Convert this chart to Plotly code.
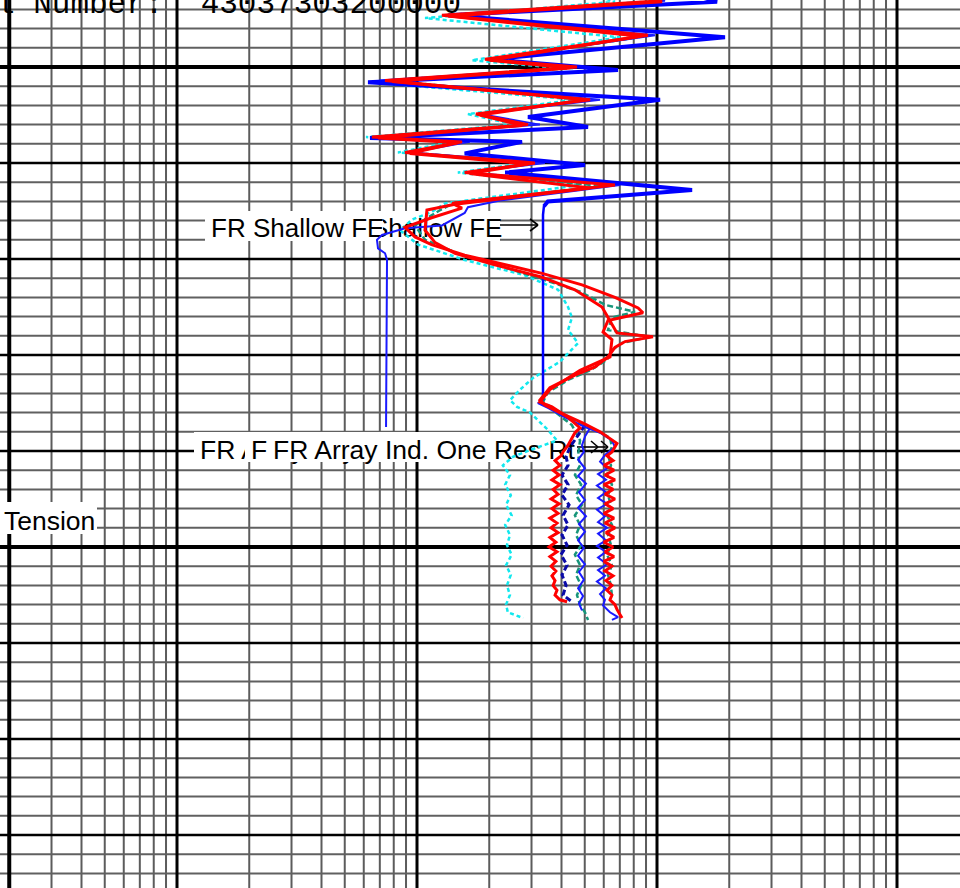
import math
import plotly.graph_objects as go

# ---------------- data: depth (ft) and resistivity (ohm-m) ----------------
deep_depth = [6392.7, 6393.2, 6394.6, 6396.9, 6399.2, 6400.3, 6401.6, 6403.4, 6405.2, 6406.25,
              6407.4, 6407.8, 6409.0, 6410.2, 6411.0, 6412.8, 6414.0, 6414.5]
deep_res = [151, 178, 13.5, 192, 20.5, 68.8, 6.25, 103, 29.0, 51.6,
            6.37, 27.4, 15.8, 50.1, 23.3, 140, 35.1, 33.8]

deepv_depth = [6414.0, 6414.5, 6415.4, 6425.0, 6434.7]
deepv_res = [35.1, 33.8, 33.5, 33.6, 33.5]

ra_depth = [6392.7, 6393.1, 6394.6, 6396.7, 6399.2, 6400.0, 6401.4, 6403.4, 6404.9, 6406.0,
            6407.3, 6407.8, 6408.9, 6410.0, 6411.0, 6412.3, 6414.2, 6414.7, 6415.7, 6416.7,
            6417.7, 6418.5, 6419.6, 6420.6, 6421.5, 6422.7, 6424.0, 6425.1, 6425.6, 6426.4,
            6427.6, 6428.4, 6430.2, 6431.6, 6433.6, 6434.9, 6435.4, 6436.5, 6437.6, 6438.1,
            6439.4, 6440.1,
            6440.5, 6441.0, 6441.5, 6442.0, 6442.5, 6443.0, 6443.5, 6444.0, 6444.5, 6445.0,
            6445.5, 6446.0, 6446.5, 6447.0, 6447.5, 6448.0, 6448.5, 6449.0, 6449.5, 6450.0,
            6450.5, 6451.0, 6451.5, 6452.0, 6452.5, 6453.0, 6453.5, 6454.0, 6454.5, 6455.0,
            6455.5, 6455.7]
ra_res = [84.9, 103, 12.7, 91.7, 19.2, 46.4, 7.36, 52.6, 17.6, 29.0,
          6.49, 15.4, 8.91, 31.0, 15.8, 66.8, 14.0, 15.4, 11.5, 8.91,
          9.81, 11.5, 15.8, 23.3, 33.2, 48.7, 66.8, 83.4, 87.4, 62.5,
          59.6, 64.9, 63.7, 47.8, 35.8, 32.5, 36.5, 42.6, 47.8, 45.5,
          42.6, 40.6,
          39.8, 37.6, 39.4, 36.9, 39.1, 36.5, 39.4, 36.9, 38.7, 36.2,
          39.1, 36.5, 38.7, 35.8, 38.3, 36.2, 38.7, 35.8, 37.9, 35.5,
          38.3, 35.8, 37.9, 36.2, 37.9, 36.5, 37.6, 36.9, 38.3, 37.6,
          39.4, 42.2]

rb_depth = [6392.9, 6393.2, 6394.7, 6396.8, 6399.3, 6400.1, 6401.5, 6403.4, 6405.0, 6406.1,
            6407.4, 6407.9, 6409.0, 6410.1, 6411.1, 6412.6, 6414.3, 6414.9, 6417.0, 6418.3,
            6419.4, 6420.6, 6421.9, 6423.2, 6425.0, 6426.4, 6427.7, 6428.1, 6428.6, 6429.2,
            6430.2, 6431.25, 6432.1, 6433.4, 6434.7, 6435.2, 6436.0, 6437.1, 6438.0, 6439.2,
            6440.1,
            6440.5, 6441.0, 6441.5, 6442.0, 6442.5, 6443.0, 6443.5, 6444.0, 6444.5, 6445.0,
            6445.5, 6446.0, 6446.5, 6447.0, 6447.5, 6448.0, 6448.5, 6449.0, 6449.5, 6450.0,
            6450.5, 6451.0, 6451.5, 6452.0, 6452.5, 6453.0, 6453.5, 6454.0, 6454.5, 6455.0,
            6455.5, 6456.0, 6456.5, 6457.0, 6457.4]
rb_res = [93.5, 105, 13.5, 84.9, 20.1, 43.4, 7.87, 50.1, 18.3, 27.4,
          6.88, 14.8, 9.35, 29.0, 16.6, 52.6, 14.4, 11.0, 10.8, 11.9,
          14.4, 21.1, 33.2, 45.5, 59.0, 63.7, 68.1, 96.2, 73.6, 66.8,
          62.5, 55.2, 45.5, 35.8, 32.5, 34.1, 39.4, 49.2, 57.9, 68.1,
          64.9,
          61.9, 65.6, 60.1, 66.2, 60.7, 66.8, 60.1, 65.6, 60.7, 66.8,
          60.7, 65.6, 60.1, 66.2, 60.7, 66.8, 61.3, 66.2, 60.1, 65.6,
          60.7, 66.2, 60.1, 64.9, 60.7, 65.6, 61.3, 64.9, 61.9, 64.9,
          63.7, 66.8, 68.1, 70.1, 71.5]

mb_depth = [6392.7, 6393.1, 6394.6, 6396.7, 6399.2, 6400.0, 6401.4, 6403.4, 6404.9, 6406.0,
            6407.3, 6407.8, 6408.9, 6410.0, 6411.0, 6412.3, 6413.9, 6414.6, 6415.2, 6416.5,
            6416.8, 6417.2, 6417.5, 6418.0, 6418.9, 6419.4, 6420.1, 6437.5]
mb_res = [93.5, 108, 13.1, 98.1, 19.8, 47.8, 7.01, 57.9, 18.3, 32.5,
          6.68, 16.6, 9.35, 34.1, 16.3, 70.1, 22.2, 16.3, 15.8, 12.7,
          8.91, 7.87, 7.15, 6.81, 6.88, 7.36, 7.50, 7.43]

cy_depth = [6392.7, 6393.2, 6394.9, 6396.9, 6399.3, 6400.1, 6401.6, 6403.4, 6404.9, 6406.0,
            6407.3, 6407.8, 6408.9, 6410.0, 6411.0, 6412.3, 6414.2, 6415.1, 6415.9, 6417.0,
            6418.5, 6420.1, 6421.7, 6423.2, 6425.0, 6426.1, 6427.4, 6428.75, 6430.7, 6432.4,
            6433.6, 6434.7, 6435.4, 6436.0, 6437.8, 6438.9, 6439.9, 6440.6, 6441.5, 6442.5,
            6443.5, 6444.6, 6445.6, 6446.7, 6447.7, 6448.75, 6449.8, 6450.8, 6451.9, 6452.9,
            6454.0, 6455.0, 6456.0, 6456.8, 6457.4]
cy_res = [57.9, 66.8, 10.8, 70.1, 16.9, 39.4, 6.49, 45.5, 16.3, 25.6,
          6.13, 14.0, 8.33, 28.2, 14.8, 47.8, 13.1, 11.5, 9.53, 8.50,
          10.1, 15.8, 28.2, 38.7, 42.6, 44.2, 42.6, 46.9, 39.4, 30.4,
          26.9, 24.4, 26.1, 29.6, 35.1, 38.3, 29.6, 25.1, 22.8, 24.4,
          23.3, 24.6, 23.5, 24.8, 23.3, 24.4, 23.7, 24.8, 23.5, 24.6,
          23.7, 24.4, 23.5, 23.9, 27.7]

g1_depth = [6392.8, 6393.1, 6394.6, 6396.8, 6399.3, 6400.1, 6401.4, 6403.4, 6404.9, 6406.0,
            6407.3, 6407.8, 6408.9, 6410.0, 6411.0, 6412.4, 6414.2, 6414.9, 6416.5, 6418.0,
            6419.6, 6420.9,
            6422.2, 6423.4, 6424.8, 6425.5, 6426.1, 6427.4, 6428.1, 6428.75, 6429.5, 6430.5,
            6431.6, 6432.6, 6433.9, 6434.9, 6435.7, 6436.8, 6437.8, 6438.6, 6439.6, 6440.4,
            6441.5, 6442.5, 6443.5, 6444.6, 6445.6, 6446.7, 6447.7, 6448.75, 6449.8, 6450.8,
            6451.9, 6452.9, 6454.0, 6455.2]
g1_res = [89.1, 104, 13.1, 88.3, 19.6, 44.7, 7.57, 51.1, 18.0, 28.2,
          6.68, 15.1, 9.08, 29.9, 16.2, 59.0, 14.1, 12.5, 9.81, 10.8,
          15.4, 23.3,
          34.1, 47.8, 61.3, 81.0, 64.9, 62.5, 93.5, 71.5, 64.9, 61.9,
          52.6, 42.6, 35.1, 33.5, 37.9, 45.5, 55.2, 63.7, 64.9, 62.5,
          64.3, 61.9, 64.9, 62.5, 64.3, 61.9, 64.9, 62.5, 64.3, 61.9,
          64.9, 62.5, 64.3, 64.9]

g2_depth = [6436.0, 6437.3, 6438.9, 6440.4, 6441.5, 6442.5, 6443.5, 6444.6, 6445.6, 6446.7,
            6447.7, 6448.75, 6449.8, 6450.8, 6451.9, 6452.9, 6454.0, 6455.0, 6456.0, 6456.8,
            6457.6]
g2_res = [37.9, 44.2, 47.8, 46.9, 47.8, 45.5, 48.3, 46.0, 48.7, 45.5,
          47.8, 46.0, 48.3, 45.5, 47.8, 46.0, 48.3, 46.4, 47.8, 50.1,
          51.6]

db_depth = [6437.3, 6438.3, 6439.6, 6440.6, 6441.5, 6442.5, 6443.5, 6444.6, 6445.6, 6446.7,
            6447.7, 6448.75, 6449.8, 6450.8, 6451.9, 6452.9, 6454.0, 6455.0, 6455.7]
db_res = [50.1, 46.9, 43.4, 41.8, 42.6, 40.2, 42.6, 40.2, 43.0, 40.6,
          42.6, 40.2, 42.2, 39.8, 42.2, 40.2, 41.8, 40.6, 44.2]

bl1_depth = [6434.7, 6435.0, 6435.5, 6436.5, 6437.5, 6438.1, 6438.9, 6439.6, 6440.4, 6441.1,
             6441.8, 6442.4, 6443.0, 6443.6, 6444.3, 6444.9, 6445.5, 6446.1, 6446.8, 6447.4,
             6448.0, 6448.6, 6449.3, 6449.9, 6450.5, 6451.1, 6451.8, 6452.4, 6453.0, 6453.6,
             6454.3, 6454.9, 6455.5, 6456.1, 6456.8, 6457.3, 6457.6]
bl1_res = [33.5, 31.9, 35.1, 41.4, 50.1, 57.9, 64.9, 66.8, 60.7, 57.9,
           61.9, 56.8, 61.3, 56.2, 61.3, 56.8, 61.9, 56.2, 60.7, 56.8,
           61.9, 56.8, 61.3, 56.2, 61.3, 56.8, 61.9, 56.8, 60.7, 56.2,
           61.3, 57.9, 60.7, 59.6, 63.7, 68.8, 64.9]

bl2_depth = [6437.6, 6438.5, 6439.4, 6440.1, 6440.9, 6441.8, 6442.6, 6443.4, 6444.3, 6445.1,
             6445.9, 6446.8, 6447.6, 6448.4, 6449.3, 6450.1, 6450.9, 6451.8, 6452.6, 6453.4,
             6454.3, 6455.1, 6455.9, 6456.6]
bl2_res = [52.6, 50.1, 48.7, 49.6, 46.9, 50.1, 46.9, 50.6, 47.3, 50.1,
           46.9, 50.6, 47.3, 50.1, 46.9, 49.6, 46.9, 50.1, 47.3, 49.6,
           46.9, 49.2, 47.3, 48.7]

header_text = "l Number:\u00a0 43037303200000"
shallow_label = "FR Shallow FE"
rt_label = "FR Array Ind. One Res Rt"
tension_label = "Tension"

# ---------------- layout helpers ----------------
W, H = 960, 888
X_LOG_MIN, X_LOG_MAX = -0.7375, 3.2625
DEPTH_TOP, DEPTH_BOT = 6393.02, 6485.52


def xp_val(v):
    return (math.log10(v) - X_LOG_MIN) / (X_LOG_MAX - X_LOG_MIN)


def yp_dep(d):
    return 1 - (d - DEPTH_TOP) / (DEPTH_BOT - DEPTH_TOP)


def px(x):
    return x / W


def py(y):
    return 1 - y / H


shapes = []
thin, medium, thick = [], [], []
for dec in [0.1, 1, 10, 100, 1000]:
    for m in range(1, 10):
        v = m * dec
        lv = math.log10(v)
        if lv < X_LOG_MIN or lv > X_LOG_MAX:
            continue
        xx = xp_val(v)
        s = dict(type="line", xref="paper", yref="paper", x0=xx, x1=xx, y0=0, y1=1, layer="below")
        if m == 1:
            s["line"] = dict(color="black", width=3)
            thick.append(s)
        elif abs(v - 0.2) < 1e-9:
            s["line"] = dict(color="black", width=4)
            thick.append(s)
        else:
            s["line"] = dict(color="#5c5c5c", width=2)
            thin.append(s)

for d in range(6394, 6486, 2):
    yy = yp_dep(d)
    s = dict(type="line", xref="paper", yref="paper", x0=0, x1=1, y0=yy, y1=yy, layer="below")
    if d % 50 == 0:
        s["line"] = dict(color="black", width=4)
        thick.append(s)
    elif d % 10 == 0:
        s["line"] = dict(color="black", width=2.5)
        medium.append(s)
    else:
        s["line"] = dict(color="#606060", width=2)
        thin.append(s)

shapes += thin + medium + thick


def label_box(x0, x1, yc, text, size, h=30):
    return dict(type="rect", xref="paper", yref="paper",
                x0=px(x0), x1=px(x1), y0=py(yc + h / 2), y1=py(yc - h / 2),
                fillcolor="white", line=dict(width=0), layer="below",
                label=dict(text=text, textposition="middle left", padding=3,
                           font=dict(family="Liberation Sans, Arial, sans-serif", size=size, color="#000000")))


def seg(x0, y0, x1, y1, w=1.6):
    return dict(type="line", xref="paper", yref="paper", x0=px(x0), y0=py(y0), x1=px(x1), y1=py(y1),
                line=dict(color="black", width=w), layer="below")


# shallow labels
shapes.append(label_box(323, 500, 226, shallow_label, 26))
shapes.append(label_box(205, 383, 226, shallow_label, 26))
shapes += [seg(500, 225, 538, 225), seg(530, 219, 538, 225), seg(530, 231, 538, 225)]
# Rt labels
shapes.append(label_box(194, 505, 447, rt_label, 26.5))
shapes.append(label_box(245, 553, 447, rt_label, 26.5))
shapes.append(label_box(267, 577, 447, rt_label, 26.5))
shapes += [seg(577, 447, 608, 447), seg(591, 441, 598, 447), seg(591, 453, 598, 447),
           seg(601, 441, 608, 447), seg(601, 453, 608, 447)]
# tension
shapes.append(label_box(-2, 97, 518, tension_label, 26.5, h=32))

fig = go.Figure()


def add(xs, ys, color, width, dash="solid"):
    fig.add_trace(go.Scatter(x=xs, y=ys, mode="lines",
                             line=dict(color=color, width=width, dash=dash),
                             showlegend=False, hoverinfo="skip"))


add(cy_res, cy_depth, "#12e8ee", 2.5, "4px,3px")
add(g1_res, g1_depth, "#17957a", 2.5, "6px,3px")
add(g2_res, g2_depth, "#17957a", 2.5, "6px,3px")
add(db_res, db_depth, "#0a0aa8", 3, "6px,3px")
add(bl2_res, bl2_depth, "#1a1aff", 2)
add(bl1_res, bl1_depth, "#1a1aff", 2)
add(mb_res, mb_depth, "#1a1aff", 2)
add(deepv_res, deepv_depth, "#0000ff", 2.5)
add(deep_res, deep_depth, "#0000ff", 4)
add(rb_res, rb_depth, "#ff0000", 3)
add(ra_res, ra_depth, "#ff0000", 3)

fig.update_layout(
    width=W, height=H,
    margin=dict(l=0, r=0, t=0, b=0),
    paper_bgcolor="white", plot_bgcolor="white",
    xaxis=dict(type="log", range=[X_LOG_MIN, X_LOG_MAX], visible=False, fixedrange=True),
    yaxis=dict(range=[DEPTH_BOT, DEPTH_TOP], visible=False, fixedrange=True),
    shapes=shapes,
    annotations=[dict(xref="paper", yref="paper", x=px(-5), xanchor="left",
                      y=py(23), yanchor="bottom", showarrow=False, borderpad=0,
                      text=header_text,
                      font=dict(family="Liberation Mono, Courier New, monospace", size=31, color="black"))],
)

fig.write_html("out.html", config={"displayModeBar": False},
               post_script="document.body.style.margin='0';")
